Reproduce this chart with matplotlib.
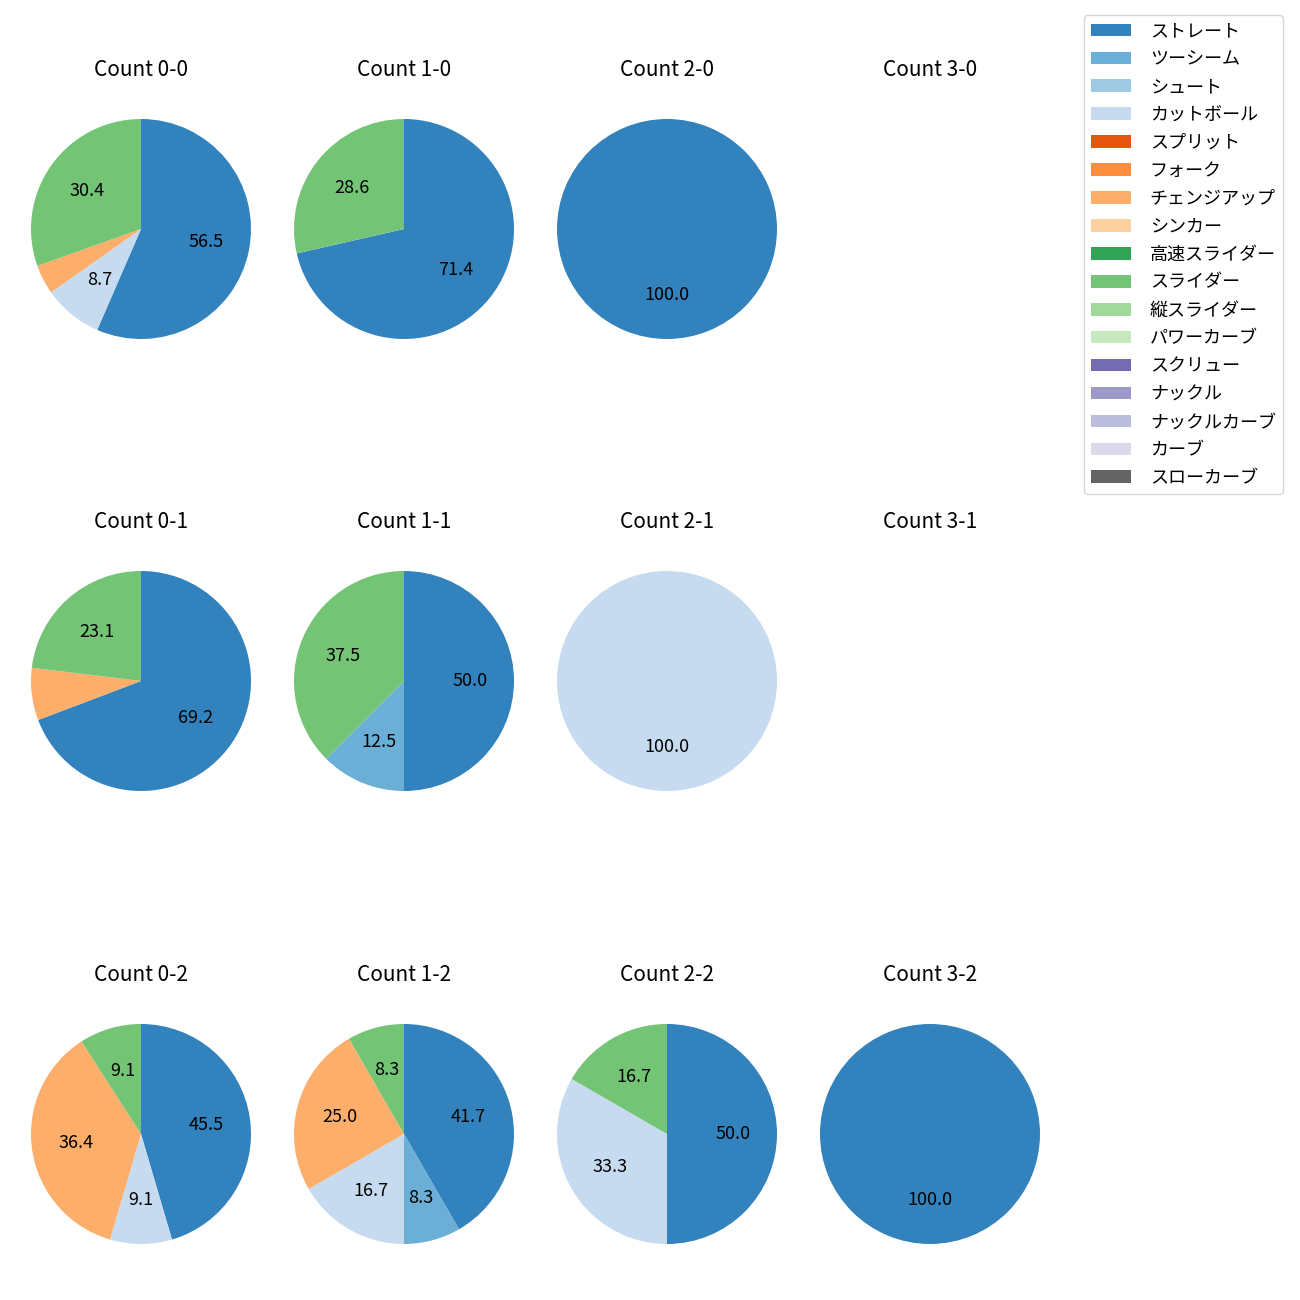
import matplotlib
matplotlib.use("Agg")
import matplotlib.pyplot as plt
from matplotlib.patches import Patch

plt.rcParams['font.family'] = ['Noto Sans CJK JP', 'DejaVu Sans']

# pitch types (legend order) and colours
pitch_types = ['ストレート', 'ツーシーム', 'シュート', 'カットボール', 'スプリット', 'フォーク',
               'チェンジアップ', 'シンカー', '高速スライダー', 'スライダー', '縦スライダー',
               'パワーカーブ', 'スクリュー', 'ナックル', 'ナックルカーブ', 'カーブ', 'スローカーブ']
cmap = plt.get_cmap('tab20c')
colors = [cmap(i) for i in range(len(pitch_types))]

# number of pitches per count (balls-strikes)
count_labels = ['0-0', '1-0', '2-0', '3-0',
                '0-1', '1-1', '2-1', '3-1',
                '0-2', '1-2', '2-2', '3-2']
c_00 = {'ストレート': 13, 'カットボール': 2, 'チェンジアップ': 1, 'スライダー': 7}
c_10 = {'ストレート': 5, 'スライダー': 2}
c_20 = {'ストレート': 1}
c_30 = {}
c_01 = {'ストレート': 9, 'チェンジアップ': 1, 'スライダー': 3}
c_11 = {'ストレート': 4, 'ツーシーム': 1, 'スライダー': 3}
c_21 = {'カットボール': 1}
c_31 = {}
c_02 = {'ストレート': 5, 'カットボール': 1, 'チェンジアップ': 4, 'スライダー': 1}
c_12 = {'ストレート': 5, 'ツーシーム': 1, 'カットボール': 2, 'チェンジアップ': 3, 'スライダー': 1}
c_22 = {'ストレート': 3, 'カットボール': 2, 'スライダー': 1}
c_32 = {'ストレート': 1}
count_data = [c_00, c_10, c_20, c_30, c_01, c_11, c_21, c_31, c_02, c_12, c_22, c_32]

W = H = 1300
fig = plt.figure(figsize=(13, 13), dpi=100)

col_x = [141, 404, 667, 930]
row_y = [229, 681, 1134]
box = 275

for i, (lab, d) in enumerate(zip(count_labels, count_data)):
    cx = col_x[i % 4]
    cy = row_y[i // 4]
    ax = fig.add_axes([(cx - box / 2) / W, 1 - (cy + box / 2) / H, box / W, box / H])
    vals = [d.get(p, 0) for p in pitch_types]
    if sum(vals) > 0:
        ax.pie(vals, colors=colors, startangle=90, counterclock=False,
               autopct=lambda p: f'{p:.1f}' if p >= 8 else '',
               textprops={'fontsize': 13})
    else:
        ax.set_xlim(-1.25, 1.25)
        ax.set_ylim(-1.25, 1.25)
    ax.set_aspect('equal')
    ax.axis('off')
    ax.set_title(f'Count {lab}', pad=11, fontsize=15)

handles = [Patch(facecolor=c, label=p) for p, c in zip(pitch_types, colors)]
fig.legend(handles=handles, loc='upper right', bbox_to_anchor=(1283 / W, 1 - 15 / H),
           borderaxespad=0, fontsize=13, labelspacing=0.55, handlelength=2.2,
           handletextpad=1.05)

fig.savefig('out.png', dpi=100)
